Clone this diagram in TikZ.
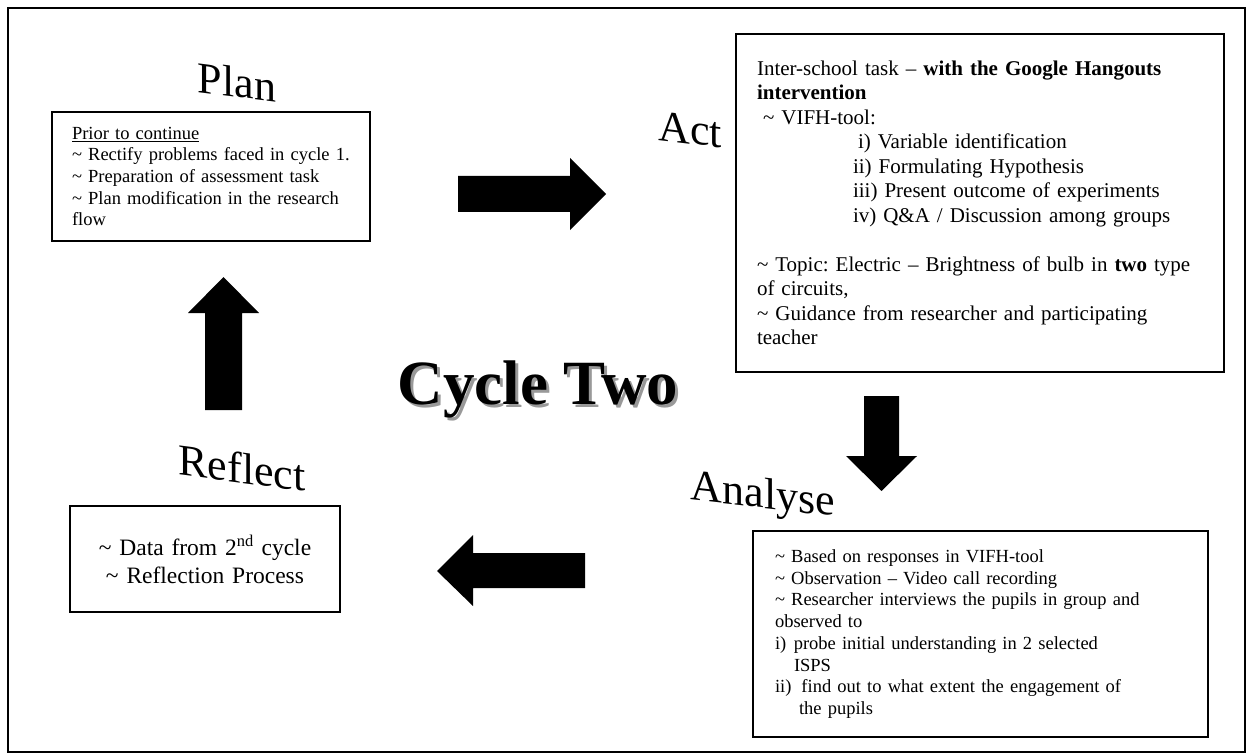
\documentclass[tikz,border=0pt]{standalone}
\usepackage{fontspec}
\setmainfont{Liberation Serif}
\frenchspacing
\newcommand{\wave}{\textasciitilde\ }
\tikzset{
  box/.style={draw, line width=1.6pt, inner xsep=20pt, align=left},
  stage/.style={font=\fontsize{44}{50}\selectfont, anchor=base, transform shape},
  bigarrow/.style={fill=black}
}

\begin{document}
\begin{tikzpicture}[x=1pt,y=-1pt]
\useasboundingbox (0,0) rectangle (1247,754);
\draw [line width=2pt] (8,8) rectangle (1245,752);

\node [stage, yslant=-0.125] (plan) at (237,97) {Plan};
\node [stage, yslant=-0.12] (act) at (690,144) {Act};
\node [stage, yslant=-0.113] (analyse) at (763,508) {Analyse};
\node [stage, yslant=-0.13] (reflect) at (242,483) {Reflect};

\node [box, text width=278pt, minimum height=129pt, font=\fontsize{18.5}{21.7}\selectfont] (planbox) at (211,176.5)
  {\underline{Prior to continue}\\
   \wave Rectify problems faced in cycle 1.\\
   \wave Preparation of assessment task\\
   \wave Plan modification in the research\\
   flow};

\node [box, inner xsep=21pt, text width=446pt, minimum height=338pt, font=\fontsize{21}{24.5}\selectfont] (actbox) at (980,203)
  {Inter-school task -- \textbf{with the Google Hangouts}\\
   \textbf{intervention}\\
   \hspace*{6pt}\wave VIFH-tool:\\
   \hspace*{101pt}i) Variable identification\\
   \hspace*{96pt}ii) Formulating Hypothesis\\
   \hspace*{96pt}iii) Present outcome of experiments\\
   \hspace*{96pt}iv) Q\&A / Discussion among groups\\[24.5pt]
   \wave Topic: Electric -- Brightness of bulb in \textbf{two} type\\
   of circuits,\\
   \wave Guidance from researcher and participating\\
   teacher};

\node [box, inner xsep=22pt, text width=411pt, minimum height=206pt, font=\fontsize{18.5}{21.7}\selectfont] (analysebox) at (980.5,634)
  {\wave Based on responses in VIFH-tool\\
   \wave Observation -- Video call recording\\
   \wave Researcher interviews the pupils in group and\\
   observed to\\
   i)\hspace{7.5pt}probe initial understanding in 2 selected\\
   \hspace*{19pt}ISPS\\
   ii)\hspace{10pt}find out to what extent the engagement of\\
   \hspace*{24pt}the pupils};

\node [box, align=center, text width=230pt, minimum height=106pt, font=\fontsize{23.5}{28}\selectfont] (reflectbox) at (205,559)
  {\wave Data from 2\textsuperscript{nd} cycle\\
   \wave Reflection Process};

\node [font=\fontsize{63}{70}\selectfont\bfseries, text=black!40, anchor=base] (cycleshadow) at (541,407) {Cycle Two};
\node [font=\fontsize{63}{70}\selectfont\bfseries, anchor=base] (cycle) at (538,404) {Cycle Two};

\fill [bigarrow] (458,176) -- (570,176) -- (570,158) -- (606,194) -- (570,230) -- (570,212) -- (458,212) -- cycle;
\fill [bigarrow] (864,396) -- (899,396) -- (899,456) -- (917,456) -- (881.5,491) -- (846,456) -- (864,456) -- cycle;
\fill [bigarrow] (585,553) -- (473,553) -- (473,535) -- (437,571) -- (473,606) -- (473,588) -- (585,588) -- cycle;
\fill [bigarrow] (205,410) -- (205,313) -- (188,313) -- (223.5,277) -- (259,313) -- (242,313) -- (242,410) -- cycle;
\end{tikzpicture}
\end{document}
